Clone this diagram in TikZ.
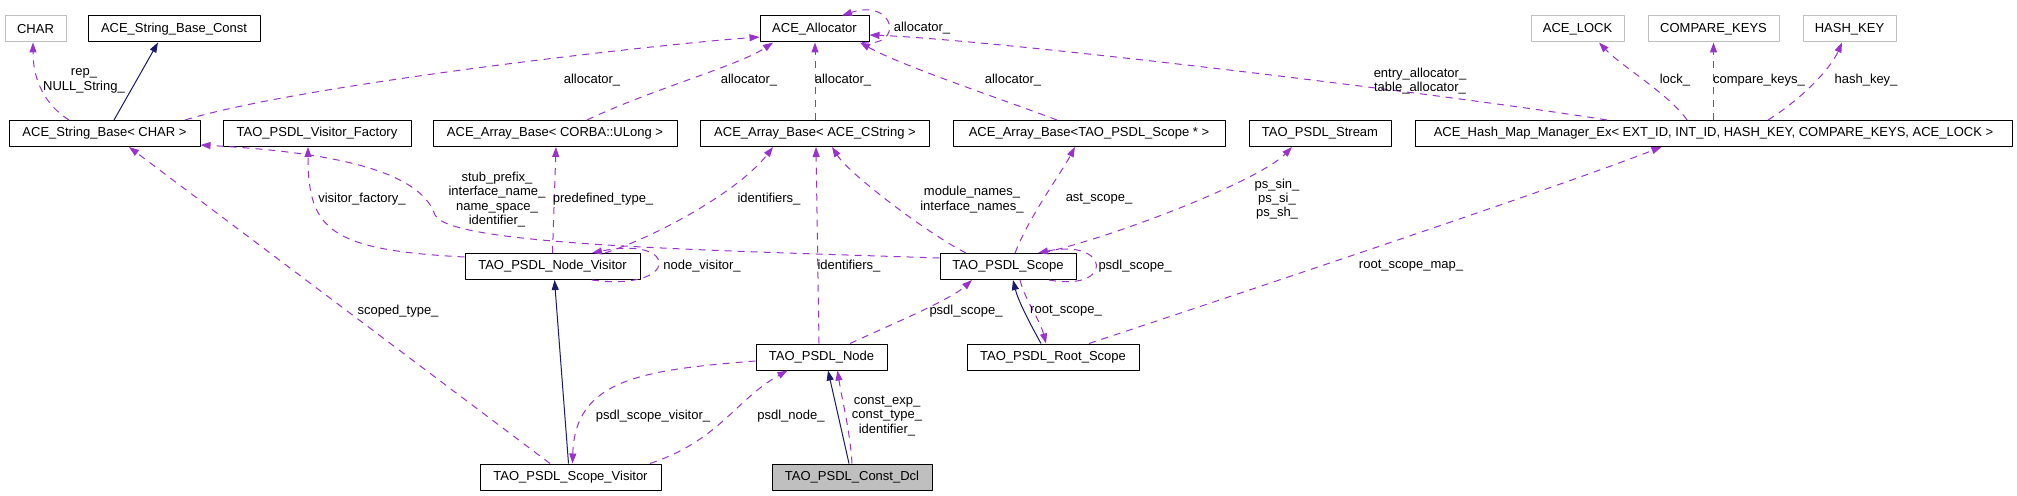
\documentclass[tikz,border=0pt]{standalone}
\usepackage{fontspec}
\setmainfont{Liberation Sans}
\usetikzlibrary{arrows.meta}
\definecolor{usecol}{HTML}{9A32CD}
\definecolor{inhcol}{HTML}{191970}
\definecolor{extgray}{HTML}{BFBFBF}
\tikzset{
  cls/.style={draw=black,line width=1pt,minimum height=26pt,inner sep=0pt,font=\fontsize{13}{14.3}\selectfont},
  extcls/.style={cls,draw=extgray},
  curcls/.style={cls,fill=extgray},
  usage/.style={draw=usecol,line width=1pt,dash pattern=on 7pt off 6pt,-{Triangle[length=10pt,width=7pt]},fill=none},
  inherit/.style={draw=inhcol,line width=1pt,-{Triangle[length=10pt,width=7pt]}},
  lbl/.style={align=center,inner sep=0pt,font=\fontsize{13}{14.3}\selectfont}
}
\begin{document}
\begin{tikzpicture}[line cap=butt,line join=round,x=1pt,y=-1pt]
\useasboundingbox (0,0) rectangle (2017,495);
% classes
\node[extcls,minimum width=61pt] (char) at (35.5,29) {CHAR};
\node[cls,minimum width=172pt] (strconst) at (174,29) {ACE\_String\_Base\_Const};
\node[cls,minimum width=109pt] (alloc) at (814.5,29) {ACE\_Allocator};
\node[extcls,minimum width=93pt] (lock) at (1577.5,29) {ACE\_LOCK};
\node[extcls,minimum width=131pt] (cmpkeys) at (1713.5,29) {COMPARE\_KEYS};
\node[extcls,minimum width=93pt] (hashkey) at (1849.5,29) {HASH\_KEY};
\node[cls,minimum width=191pt] (strbase) at (104.5,133.5) {ACE\_String\_Base< CHAR >};
\node[cls,minimum width=188pt] (visfac) at (317,133.5) {TAO\_PSDL\_Visitor\_Factory};
\node[cls,minimum width=244pt] (ulong) at (555,133.5) {ACE\_Array\_Base< CORBA::ULong >};
\node[cls,minimum width=229pt] (cstring) at (815,133.5) {ACE\_Array\_Base< ACE\_CString >};
\node[cls,minimum width=272pt] (scopeptr) at (1089,133.5) {ACE\_Array\_Base<TAO\_PSDL\_Scope * >};
\node[cls,minimum width=142pt] (stream) at (1320,133.5) {TAO\_PSDL\_Stream};
\node[cls,minimum width=597pt] (hashmap) at (1713.5,133.5) {ACE\_Hash\_Map\_Manager\_Ex< EXT\_ID, INT\_ID, HASH\_KEY, COMPARE\_KEYS, ACE\_LOCK >};
\node[cls,minimum width=175pt] (nodevis) at (552.5,266.5) {TAO\_PSDL\_Node\_Visitor};
\node[cls,minimum width=136pt] (scope) at (1008,266.5) {TAO\_PSDL\_Scope};
\node[cls,minimum width=131pt] (node) at (821.5,357) {TAO\_PSDL\_Node};
\node[cls,minimum width=172pt] (rootscope) at (1053,357) {TAO\_PSDL\_Root\_Scope};
\node[cls,minimum width=181pt] (scopevis) at (570.5,477) {TAO\_PSDL\_Scope\_Visitor};
\node[curcls,minimum width=160pt] (constdcl) at (852,477) {TAO\_PSDL\_Const\_Dcl};
% inheritance
\draw[inherit] ([xshift=9.5pt]strbase.north) -- ([xshift=-16pt]strconst.south);
\draw[inherit] ([xshift=-2pt]scopevis.north) -- ([xshift=2pt]nodevis.south);
\draw[inherit] ([xshift=-3pt]constdcl.north) -- ([xshift=6.5pt]node.south);
\draw[inherit] ([xshift=-12pt]rootscope.north) .. controls (1028,320) and (1018,300) .. ([xshift=5pt]scope.south);
% members
\draw[usage] ([xshift=-35.5pt]strbase.north) .. controls (45,105) and (33,80) .. ([xshift=-2.5pt]char.south);
\draw[usage] ([xshift=80.5pt]strbase.north) .. controls (300,85) and (650,45) .. ([yshift=-8pt]alloc.west);
\draw[usage] ([xshift=32pt]ulong.north) .. controls (650,90) and (740,65) .. ([xshift=-41.5pt]alloc.south);
\draw[usage] (cstring.north) -- ([xshift=0.5pt]alloc.south);
\draw[usage] ([xshift=-32pt]scopeptr.north) .. controls (990,95) and (900,65) .. ([xshift=45.5pt]alloc.south);
\draw[usage] ([xshift=47.5pt]alloc.south) .. controls (905,48) and (895,-2) .. ([xshift=27.5pt]alloc.north);
\draw[usage] ([xshift=-106.5pt]hashmap.north) .. controls (1450,95) and (1000,40) .. ([yshift=-6pt]alloc.east);
\draw[usage] ([xshift=-26.5pt]hashmap.north) .. controls (1670,95) and (1620,65) .. ([xshift=21.5pt]lock.south);
\draw[usage] (hashmap.north) -- (cmpkeys.south);
\draw[usage] ([xshift=54.5pt]hashmap.north) .. controls (1800,100) and (1830,70) .. ([xshift=-7.5pt]hashkey.south);
\draw[usage] ([yshift=8.5pt]scope.west) .. controls (700,250) and (450,245) .. (435,215) .. controls (420,170) and (330,152) .. ([yshift=-11.5pt]strbase.east);
\draw[usage] ([yshift=9.5pt]nodevis.west) .. controls (330,250) and (308,230) .. ([xshift=-9pt]visfac.south);
\draw[usage] (nodevis.north) -- ([xshift=1pt]ulong.south);
\draw[usage] ([xshift=52.5pt]nodevis.north) .. controls (660,235) and (740,190) .. ([xshift=-42pt]cstring.south);
\draw[usage] ([xshift=39.5pt]nodevis.south) .. controls (680,292) and (680,235) .. ([xshift=39.5pt]nodevis.north);
\draw[usage] ([xshift=-2.5pt]node.north) -- ([xshift=1pt]cstring.south);
\draw[usage] ([xshift=-42pt]scope.north) .. controls (930,235) and (850,175) .. ([xshift=17pt]cstring.south);
\draw[usage] ([xshift=7pt]scope.north) .. controls (1030,215) and (1060,175) .. ([xshift=-14pt]scopeptr.south);
\draw[usage] ([xshift=35pt]scope.north) .. controls (1120,235) and (1260,180) .. ([xshift=-28pt]stream.south);
\draw[usage] ([xshift=41pt]scope.south) .. controls (1115,292) and (1110,238) .. ([xshift=30pt]scope.north);
\draw[usage] ([xshift=28.5pt]node.north) .. controls (890,325) and (950,300) .. ([xshift=-36pt]scope.south);
\draw[usage] ([xshift=12pt]scope.south) .. controls (1025,300) and (1040,320) .. ([xshift=-7pt]rootscope.north);
\draw[usage] ([xshift=36pt]rootscope.north) .. controls (1250,290) and (1550,190) .. ([xshift=-52pt]hashmap.south);
\draw[usage] ([xshift=-20.5pt]scopevis.north) -- ([xshift=24.5pt]strbase.south);
\draw[usage] ([yshift=-4pt]node.west) .. controls (640,370) and (575,380) .. ([xshift=2pt]scopevis.north);
\draw[usage] ([xshift=79.5pt]scopevis.north) .. controls (720,440) and (735,400) .. ([xshift=-34pt]node.south);
\draw[usage] (constdcl.north) .. controls (850,430) and (842,400) .. ([xshift=16pt]node.south);
% labels
\node[lbl] (l-rep) at (84,81) {rep\_\\NULL\_String\_};
\node[lbl] (l-alloc1) at (592,80) {allocator\_};
\node[lbl] (l-alloc2) at (749,80) {allocator\_};
\node[lbl] (l-alloc3) at (843,80) {allocator\_};
\node[lbl] (l-alloc4) at (1013,80) {allocator\_};
\node[lbl] (l-alloc5) at (922,28) {allocator\_};
\node[lbl] (l-entry) at (1420,81) {entry\_allocator\_\\table\_allocator\_};
\node[lbl] (l-lock) at (1675,80) {lock\_};
\node[lbl] (l-cmp) at (1759,80) {compare\_keys\_};
\node[lbl] (l-hkey) at (1866,80) {hash\_key\_};
\node[lbl] (l-visfac) at (362,199) {visitor\_factory\_};
\node[lbl] (l-stub) at (497,199.5) {stub\_prefix\_\\interface\_name\_\\name\_space\_\\identifier\_};
\node[lbl] (l-predef) at (603,199) {predefined\_type\_};
\node[lbl] (l-ident1) at (769,199) {identifiers\_};
\node[lbl] (l-modnames) at (972,199.5) {module\_names\_\\interface\_names\_};
\node[lbl] (l-ast) at (1099,199) {ast\_scope\_};
\node[lbl] (l-ps) at (1277,199) {ps\_sin\_\\ps\_si\_\\ps\_sh\_};
\node[lbl] (l-nodevis) at (702,266) {node\_visitor\_};
\node[lbl] (l-ident2) at (849,266) {identifiers\_};
\node[lbl] (l-pscope1) at (1135,266) {psdl\_scope\_};
\node[lbl] (l-rootmap) at (1411,266) {root\_scope\_map\_};
\node[lbl] (l-scoped) at (398,311) {scoped\_type\_};
\node[lbl] (l-pscope2) at (966,311) {psdl\_scope\_};
\node[lbl] (l-root) at (1066,311) {root\_scope\_};
\node[lbl] (l-psvis) at (653,416) {psdl\_scope\_visitor\_};
\node[lbl] (l-pnode) at (791,416) {psdl\_node\_};
\node[lbl] (l-const) at (887,416) {const\_exp\_\\const\_type\_\\identifier\_};
\end{tikzpicture}
\end{document}
